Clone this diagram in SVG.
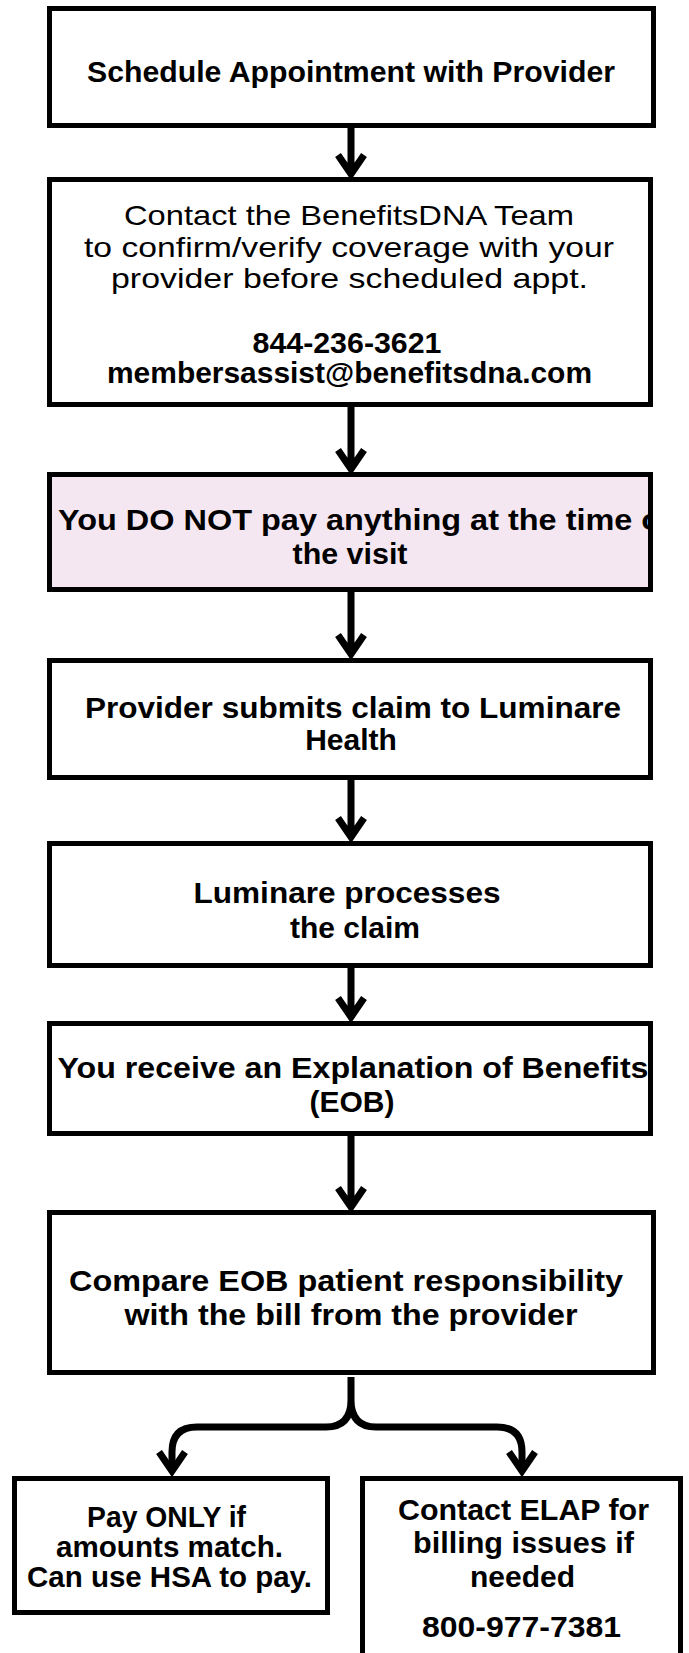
<svg xmlns="http://www.w3.org/2000/svg" width="689" height="1653" viewBox="0 0 689 1653">
<style>
.box{fill:#ffffff;stroke:#000000;stroke-width:5}
.pink{fill:#f5e7f2}
.t{font-family:"Liberation Sans",Arial,sans-serif;font-size:30px;font-weight:bold;fill:#000000;text-anchor:middle}
.r{font-family:"Liberation Sans",Arial,sans-serif;font-size:28px;font-weight:normal;fill:#000000;text-anchor:middle}
.c{fill:none;stroke:#000000;stroke-width:7;stroke-linejoin:miter;stroke-linecap:butt}
</style>
<defs>
<clipPath id="clip3"><rect x="52" y="477" width="596" height="110"/></clipPath>
</defs>
<rect width="689" height="1653" fill="#ffffff"/>
<g id="connectors">
<path class="c" d="M351,128 V174 M338,155 L351,174 L364,155"/>
<path class="c" d="M351,407 V469 M338,450 L351,469 L364,450"/>
<path class="c" d="M351,592 V654 M338,635 L351,654 L364,635"/>
<path class="c" d="M351,780 V837 M338,818 L351,837 L364,818"/>
<path class="c" d="M351,968 V1017 M338,998 L351,1017 L364,998"/>
<path class="c" d="M351,1136 V1207 M338,1188 L351,1207 L364,1188"/>
<path class="c" stroke-width="8" d="M351,1377 V1400 Q351,1427 326,1427 H197 Q172,1427 172,1452 V1471 M351,1400 Q351,1427 376,1427 H497 Q522,1427 522,1452 V1471"/>
<path class="c" d="M159,1452 L172,1471 L185,1452 M509,1452 L522,1471 L535,1452"/>
</g>
<g id="node1">
<rect class="box" x="49.5" y="8.5" width="604" height="117"/>
<text class="t" x="351" y="82" textLength="528" lengthAdjust="spacingAndGlyphs">Schedule Appointment with Provider</text>
</g>
<g id="node2">
<rect class="box" x="49.5" y="179.5" width="601" height="225"/>
<text class="r" x="349" y="225" textLength="450" lengthAdjust="spacingAndGlyphs">Contact the BenefitsDNA Team</text>
<text class="r" x="349" y="257" textLength="530" lengthAdjust="spacingAndGlyphs">to confirm/verify coverage with your</text>
<text class="r" x="349.5" y="288" textLength="477" lengthAdjust="spacingAndGlyphs">provider before scheduled appt.</text>
<text class="t" x="347" y="353" textLength="189" lengthAdjust="spacingAndGlyphs">844-236-3621</text>
<text class="t" x="349.5" y="383" textLength="485" lengthAdjust="spacingAndGlyphs">membersassist@benefitsdna.com</text>
</g>
<g id="node3">
<rect class="box pink" x="49.5" y="474.5" width="601" height="115"/>
<g clip-path="url(#clip3)">
<text class="t" x="58" y="530" style="text-anchor:start" textLength="614" lengthAdjust="spacingAndGlyphs">You DO NOT pay anything at the time of</text>
</g>
<text class="t" x="350" y="564" textLength="115" lengthAdjust="spacingAndGlyphs">the visit</text>
</g>
<g id="node4">
<rect class="box" x="49.5" y="660.5" width="601" height="117"/>
<text class="t" x="353" y="718" textLength="536" lengthAdjust="spacingAndGlyphs">Provider submits claim to Luminare</text>
<text class="t" x="351" y="750">Health</text>
</g>
<g id="node5">
<rect class="box" x="49.5" y="843.5" width="601" height="122"/>
<text class="t" x="347" y="903" textLength="307" lengthAdjust="spacingAndGlyphs">Luminare processes</text>
<text class="t" x="355" y="938">the claim</text>
</g>
<g id="node6">
<rect class="box" x="49.5" y="1023.5" width="601" height="110"/>
<text class="t" x="353" y="1078" textLength="591" lengthAdjust="spacingAndGlyphs">You receive an Explanation of Benefits</text>
<text class="t" x="352" y="1112">(EOB)</text>
</g>
<g id="node7">
<rect class="box" x="49.5" y="1212.5" width="604" height="160"/>
<text class="t" x="346" y="1291" textLength="554" lengthAdjust="spacingAndGlyphs">Compare EOB patient responsibility</text>
<text class="t" x="351" y="1325" textLength="453" lengthAdjust="spacingAndGlyphs">with the bill from the provider</text>
</g>
<g id="node8">
<rect class="box" x="14.5" y="1478.5" width="313" height="134"/>
<text class="t" x="166.5" y="1527" textLength="159" lengthAdjust="spacingAndGlyphs">Pay ONLY if</text>
<text class="t" x="169.5" y="1557" textLength="227" lengthAdjust="spacingAndGlyphs">amounts match.</text>
<text class="t" x="169.5" y="1587" textLength="285" lengthAdjust="spacingAndGlyphs">Can use HSA to pay.</text>
</g>
<g id="node9">
<rect class="box" x="362.5" y="1478.5" width="318" height="200"/>
<text class="t" x="523.5" y="1520" textLength="251" lengthAdjust="spacingAndGlyphs">Contact ELAP for</text>
<text class="t" x="523.5" y="1553" textLength="221" lengthAdjust="spacingAndGlyphs">billing issues if</text>
<text class="t" x="522.5" y="1587">needed</text>
<text class="t" x="521.5" y="1637" textLength="199" lengthAdjust="spacingAndGlyphs">800-977-7381</text>
</g>
</svg>
